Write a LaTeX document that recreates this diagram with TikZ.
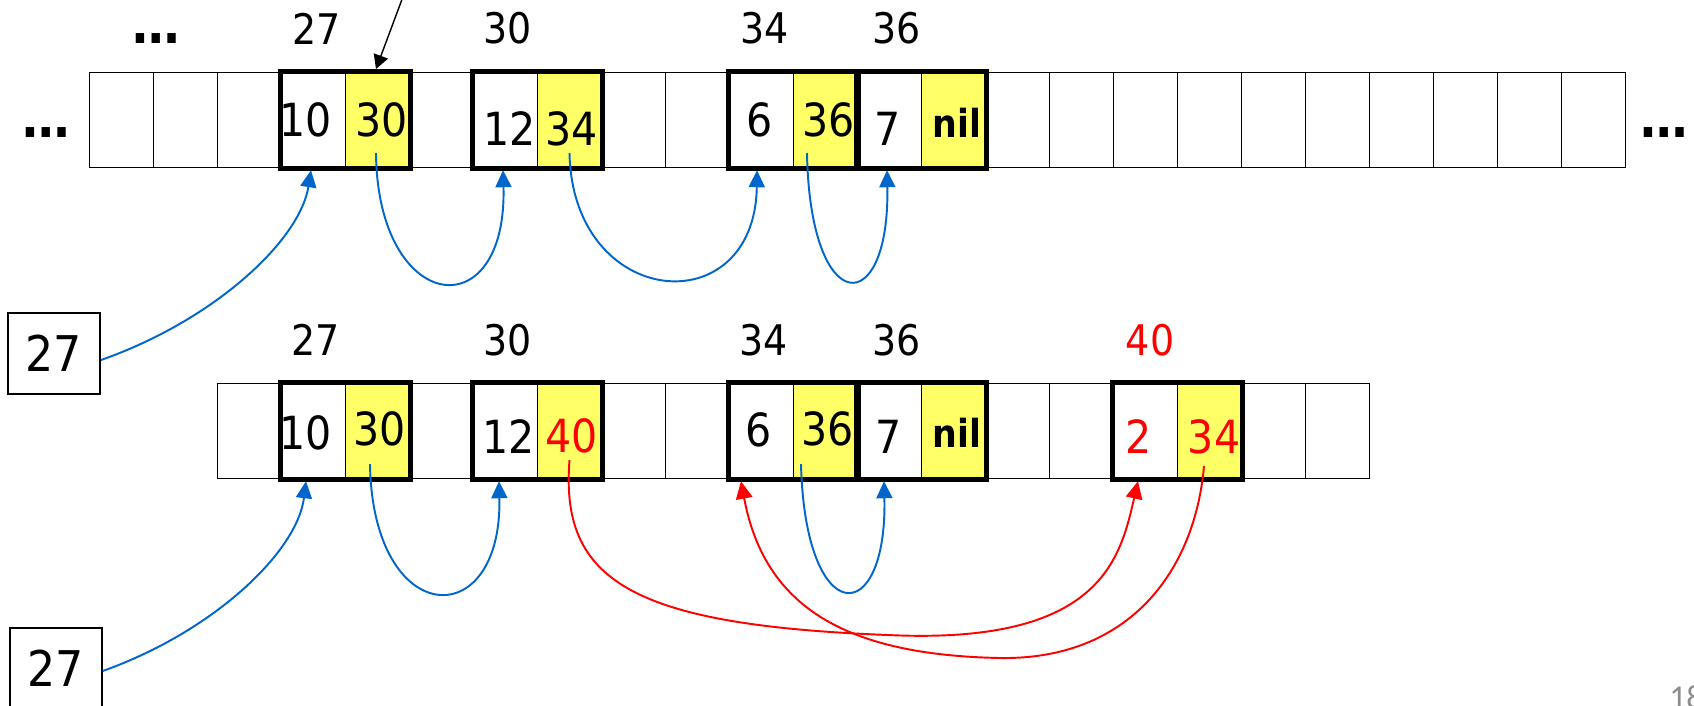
\documentclass[tikz,border=0pt]{standalone}
\usepackage{fontspec}
\setmainfont{DejaVu Sans}[FakeStretch=0.9]
\newfontfamily\pagefont{Carlito}
\usetikzlibrary{arrows.meta}
\definecolor{canary}{RGB}{255, 255, 102}
\definecolor{cobalt}{RGB}{0, 102, 204}
\definecolor{scarlet}{RGB}{255, 0, 0}
\definecolor{ash}{RGB}{140, 140, 140}

\begin{document}
\begin{tikzpicture}[
    cell/.style  = {draw, line width=1.1pt, minimum width=1.28cm, minimum height=1.9cm, inner sep=0pt},
    pair/.style  = {line width=2.85pt},
    val/.style   = {inner sep=0pt, font=\fontsize{26}{30}\selectfont},
    nilval/.style= {inner sep=0pt, font=\fontsize{22}{26}\selectfont\bfseries},
    addr/.style  = {inner sep=0pt, font=\fontsize{24}{28}\selectfont},
    more/.style  = {inner sep=0pt, anchor=base, font=\fontsize{30}{34}\selectfont\bfseries},
    key/.style   = {draw, line width=1.1pt, minimum width=1.84cm, minimum height=1.62cm, inner sep=0pt, font=\fontsize{28}{32}\selectfont},
    link/.style  = {draw=cobalt, line width=1.1pt, -{Triangle[length=0.34cm, width=0.32cm]}},
    relink/.style= {draw=scarlet, line width=1.1pt, -{Triangle[length=0.35cm, width=0.33cm]}},
    ptr/.style   = {line width=0.8pt, -{Triangle[length=0.28cm, width=0.3cm]}},
    pagenum/.style = {inner sep=0pt, text=ash, font=\fontsize{19}{22}\selectfont\pagefont}
]
    \useasboundingbox (0.00, 0.00) rectangle (33.88,-14.10);

    \foreach \i in {4,7,11,13}    \fill[canary] ({1.79+1.28*\i},-1.45) rectangle ++(1.28,-1.90);
    \foreach \i in {4,7,11,13,17} \fill[canary] ({1.79+1.28*\i},-7.67) rectangle ++(1.28,-1.90);

    \foreach \i in {0,...,23} \node[cell] (t\i) at ({2.43+1.28*\i},-2.40) {};
    \foreach \i in {2,...,19} \node[cell] (b\i) at ({2.43+1.28*\i},-8.62) {};

    \draw[pair] (t3.north west)  rectangle (t4.south east);
    \draw[pair] (t6.north west)  rectangle (t7.south east);
    \draw[pair] (t10.north west) rectangle (t11.south east);
    \draw[pair] (t12.north west) rectangle (t13.south east);
    \draw[pair] (b3.north west)  rectangle (b4.south east);
    \draw[pair] (b6.north west)  rectangle (b7.south east);
    \draw[pair] (b10.north west) rectangle (b11.south east);
    \draw[pair] (b12.north west) rectangle (b13.south east);
    \draw[pair] (b16.north west) rectangle (b17.south east);

    \node[val]    (tx3)  at ([xshift=-0.16cm]t3)                 {10};
    \node[val]    (tx4)  at ([xshift= 0.09cm]t4)                 {30};
    \node[val]    (tx6)  at ([xshift= 0.09cm, yshift=-0.17cm]t6)  {12};
    \node[val]    (tx7)  at ([xshift= 0.04cm, yshift=-0.17cm]t7)  {34};
    \node[val]    (tx10) at ([xshift=-0.04cm]t10)                {6};
    \node[val]    (tx11) at ([xshift= 0.07cm]t11)                {36};
    \node[val]    (tx12) at ([xshift=-0.03cm, yshift=-0.17cm]t12) {7};
    \node[nilval] (tx13) at ([xshift= 0.07cm, yshift=-0.06cm]t13) {nil};

    \node[val]    (bx3)  at ([xshift=-0.16cm, yshift=-0.03cm]b3)  {10};
    \node[val]    (bx4)  at ([xshift= 0.05cm, yshift= 0.04cm]b4)  {30};
    \node[val]    (bx6)  at ([xshift= 0.07cm, yshift=-0.12cm]b6)  {12};
    \node[val, text=scarlet] (bx7) at ([xshift= 0.04cm, yshift=-0.10cm]b7) {40};
    \node[val]    (bx10) at ([xshift=-0.05cm, yshift= 0.02cm]b10) {6};
    \node[val]    (bx11) at ([xshift= 0.05cm, yshift= 0.04cm]b11) {36};
    \node[val]    (bx12) at ([xshift=-0.02cm, yshift=-0.12cm]b12) {7};
    \node[nilval] (bx13) at ([xshift= 0.07cm, yshift=-0.04cm]b13) {nil};
    \node[val, text=scarlet] (bx16) at ([xshift=-0.14cm, yshift=-0.12cm]b16) {2};
    \node[val, text=scarlet] (bx17) at ([xshift= 0.09cm, yshift=-0.12cm]b17) {34};

    \node[addr] (ta3)  at ( 6.33,-0.57) {27};
    \node[addr] (ta6)  at (10.16,-0.57) {30};
    \node[addr] (ta10) at (15.29,-0.57) {34};
    \node[addr] (ta12) at (17.94,-0.57) {36};
    \node[addr] (ba3)  at ( 6.32,-6.80) {27};
    \node[addr] (ba6)  at (10.16,-6.80) {30};
    \node[addr] (ba10) at (15.28,-6.80) {34};
    \node[addr] (ba12) at (17.94,-6.80) {36};
    \node[addr, text=scarlet] (ba16) at (23.00,-6.80) {40};

    \node[more] (dt) at ( 3.12,-0.86) {\dots};
    \node[more] (dl) at ( 0.92,-2.74) {\dots};
    \node[more] (dr) at (33.28,-2.74) {\dots};

    \node[key] (key1) at (1.08 , -7.07) {27};
    \node[key] (key2) at (1.115,-13.37) {27};

    \coordinate (head) at (8.11, 0.20);
    \draw[ptr] (head) -- ([xshift=-0.03cm, yshift=0.05cm]t4.north);

    \draw[link] ([yshift=-0.13cm]key1.east) .. controls (4.30,-6.40) and (6.00,-4.80) .. ([xshift=-0.05cm, yshift=-1pt]t3.south);
    \draw[link] ([xshift=-0.03cm, yshift=-0.66cm]t4.center) .. controls (7.55,-6.30) and (10.15,-6.60) .. ([xshift=-0.05cm, yshift=-1pt]t6.south);
    \draw[link] ([yshift=-0.66cm]t7.center) .. controls (11.45,-6.20) and (15.10,-6.50) .. ([xshift=-0.09cm, yshift=-1pt]t10.south);
    \draw[link] ([xshift=-0.37cm, yshift=-0.66cm]t11.center) .. controls (16.20,-6.40) and (17.80,-6.40) .. ([xshift=-0.05cm, yshift=-1pt]t12.south);

    \draw[link] ([yshift=-0.05cm]key2.east) .. controls (4.30,-12.62) and (5.95,-11.02) .. ([xshift=-0.15cm, yshift=-1pt]b3.south);
    \draw[link] ([xshift=-0.15cm, yshift=-0.66cm]b4.center) .. controls (7.45,-12.60) and (10.05,-12.70) .. ([xshift=-0.13cm, yshift=-1pt]b6.south);
    \draw[link] ([xshift=-0.49cm, yshift=-0.66cm]b11.center) .. controls (16.10,-12.60) and (17.75,-12.60) .. ([xshift=-0.11cm, yshift=-1pt]b12.south);

    \draw[relink] ([yshift=-0.58cm]b7.center) .. controls (11.20,-11.60) and (12.60,-12.50) .. (17.76,-12.70)
                  .. controls (22.00,-12.90) and (22.40,-11.20) .. ([xshift=-0.15cm, yshift=-1pt]b16.south);
    \draw[relink] ([xshift=-0.11cm, yshift=-0.70cm]b17.center) .. controls (23.90,-11.40) and (22.60,-13.20) .. (20.00,-13.16)
                  .. controls (17.00,-13.10) and (15.30,-12.20) .. ([xshift=-0.41cm, yshift=-1pt]b10.south);

    \node[pagenum, anchor=north west] (pg) at (33.38,-13.70) {18};
\end{tikzpicture}
\end{document}
